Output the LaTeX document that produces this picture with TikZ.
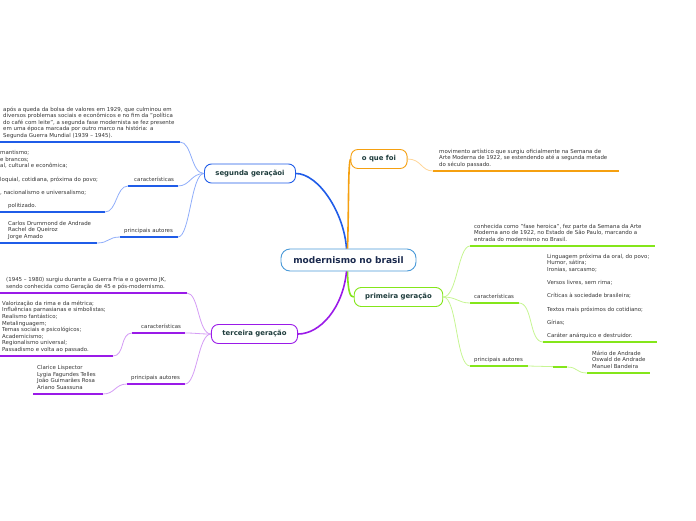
\documentclass[tikz,border=0pt]{standalone}
\usepackage{fontspec}
\setmainfont{DejaVu Sans}
\usetikzlibrary{positioning, calc}
\definecolor{rootline}{HTML}{4A9AD8}
\definecolor{roottext}{HTML}{1B2A4E}
\definecolor{labeltext}{HTML}{1E3C3C}
\definecolor{bodytext}{HTML}{333333}
\definecolor{segblue}{HTML}{1F5CE8}
\definecolor{segbluelt}{HTML}{8FADFA}
\definecolor{foiorange}{HTML}{F5A010}
\definecolor{foiorangelt}{HTML}{FFD597}
\definecolor{primgreen}{HTML}{84E61A}
\definecolor{primgreenlt}{HTML}{C6F592}
\definecolor{tercpurple}{HTML}{9A1AE8}
\definecolor{tercpurplelt}{HTML}{D49CF5}

\begin{document}
\begin{tikzpicture}[x=1pt, y=-1pt,
    topic/.style={draw=#1, fill=white, rounded corners=7pt, line width=0.9pt,
                  minimum height=19pt, inner xsep=11pt, text=labeltext,
                  font=\fontsize{6.9}{8}\selectfont\bfseries},
    note/.style={anchor=south west, inner xsep=0pt, inner ysep=3pt, text depth=1.3pt,
                 align=left, text=bodytext, font=\fontsize{5.45}{6.6}\selectfont},
    trunk/.style={line width=1.6pt, draw=#1},
    twig/.style={line width=0.8pt, draw=#1},
    rule/.style={line width=1.6pt, draw=#1}]
  \useasboundingbox (0,0) rectangle (696,520);

  % central topic
  \node[draw=rootline, fill=white, rounded corners=9pt, line width=0.9pt,
        minimum width=135pt, minimum height=22pt, text=roottext,
        font=\fontsize{9}{10}\selectfont\bfseries] (root) at (348.5,260) {modernismo no brasil};
  \coordinate (hubtop) at ([xshift=-2pt]root.north);
  \coordinate (hubbot) at ([xshift=-2pt]root.south);

  % main topics
  \node[topic=foiorange]  (oqf)  at (379,159)   {o que foi};
  \node[topic=primgreen]  (prim) at (398.5,297) {primeira geração};
  \node[topic=segblue]    (seg)  at (250,173.5) {segunda geraçãoi};
  \node[topic=tercpurple] (terc) at (254.5,334) {terceira geração};

  \draw[trunk=segblue] (hubtop) .. controls (344,212) and (318,173.5) .. (seg.east);
  \draw[trunk=foiorange] ([xshift=1pt]hubtop) .. controls (349,200) and (348,166) .. (oqf.west);
  \draw[trunk=primgreen] ([xshift=1pt]hubbot) .. controls (348,292) and (350,297) .. (prim.west);
  \draw[trunk=tercpurple] (hubbot) .. controls (343,308) and (320,334) .. (terc.east);

  % o que foi
  \coordinate (oqfL) at (433,171);
  \coordinate (oqfR) at (619,171);
  \node[note] (oqfTxt) at (439,171) {movimento artístico que surgiu oficialmente na Semana de\\
    Arte Moderna de 1922, se estendendo até a segunda metade\\
    do século passado.};
  \draw[rule=foiorange] (oqfL) -- (oqfR);
  \draw[twig=foiorangelt] (oqf.east) .. controls +(14,0) and +(-12,0) .. (oqfL);

  % primeira geracao
  \coordinate (primTopL) at (470,246);
  \coordinate (primTopR) at (655,246);
  \node[note] (primTop) at (474,246) {conhecida como "fase heroica", fez parte da Semana da Arte\\
    Moderna ano de 1922, no Estado de São Paulo, marcando a\\
    entrada do modernismo no Brasil.};
  \draw[rule=primgreen] (primTopL) -- (primTopR);
  \draw[twig=primgreenlt] (prim.east) .. controls +(14,0) and +(-12,0) .. (primTopL);

  \coordinate (primCarL) at (470,303);
  \coordinate (primCarR) at (519,303);
  \node[note] (primCar) at (474,303) {características};
  \draw[rule=primgreen] (primCarL) -- (primCarR);
  \draw[twig=primgreenlt] (prim.east) .. controls +(14,0) and +(-12,0) .. (primCarL);

  \coordinate (primCarListL) at (543,342);
  \coordinate (primCarListR) at (657,342);
  \node[note] (primCarList) at (547,342) {Linguagem próxima da oral, do povo;\\
    Humor, sátira;\\
    Ironias, sarcasmo;\\[6.6pt]
    Versos livres, sem rima;\\[6.6pt]
    Críticas à sociedade brasileira;\\[6.6pt]
    Textos mais próximos do cotidiano;\\[6.6pt]
    Gírias;\\[6.6pt]
    Caráter anárquico e destruidor.};
  \draw[rule=primgreen] (primCarListL) -- (primCarListR);
  \draw[twig=primgreenlt] (primCarR) .. controls +(14,0) and +(-14,0) .. (primCarListL);

  \coordinate (primAutL) at (470,366);
  \coordinate (primAutR) at (528,366);
  \node[note] (primAut) at (474,366) {principais autores};
  \draw[rule=primgreen] (primAutL) -- (primAutR);
  \draw[twig=primgreenlt] (prim.east) .. controls +(14,0) and +(-14,0) .. (primAutL);

  \coordinate (primAutListL) at (587,373);
  \coordinate (primAutListR) at (650,373);
  \node[note] (primAutList) at (592,373) {Mário de Andrade\\
    Oswald de Andrade\\
    Manuel Bandeira};
  \draw[rule=primgreen] (primAutListL) -- (primAutListR);
  \draw[twig=primgreenlt] (primAutR) -- (567,367) .. controls (578,367) and (576,373) .. (primAutListL);
  \draw[rule=primgreen] (553,367) -- (567,367);

  % segunda geracao
  \coordinate (segTopL) at (0,142);
  \coordinate (segTopR) at (180,142);
  \node[note] (segTop) at (3,142) {após a queda da bolsa de valores em 1929, que culminou em\\
    diversos problemas sociais e econômicos e no fim da "política\\
    do café com leite", a segunda fase modernista se fez presente\\
    em uma época marcada por outro marco na história: a\\
    Segunda Guerra Mundial (1939 – 1945).};
  \draw[rule=segblue] (segTopL) -- (segTopR);
  \draw[twig=segbluelt] (seg.west) .. controls +(-13,0) and +(12,0) .. (segTopR);

  \coordinate (segCarL) at (128,186);
  \coordinate (segCarR) at (178,186);
  \node[note] (segCar) at (134,186) {características};
  \draw[rule=segblue] (segCarL) -- (segCarR);
  \draw[twig=segbluelt] (seg.west) .. controls +(-13,0) and +(12,0) .. (segCarR);

  \coordinate (segCarListL) at (0,212);
  \coordinate (segCarListR) at (105,212);
  \node[note] (segCarList) at (0,212) {mantismo;\\
    e brancos;\\
    al, cultural e econômica;\\[6.6pt]
    loquial, cotidiana, próxima do povo;\\[6.6pt]
    , nacionalismo e universalismo;\\[6.6pt]
    \hspace*{8pt}politizado.};
  \draw[rule=segblue] (segCarListL) -- (segCarListR);
  \draw[twig=segbluelt] (segCarL) .. controls +(-12,0) and +(12,0) .. (segCarListR);

  \coordinate (segAutL) at (120,237);
  \coordinate (segAutR) at (178,237);
  \node[note] (segAut) at (124,237) {principais autores};
  \draw[rule=segblue] (segAutL) -- (segAutR);
  \draw[twig=segbluelt] (seg.west) .. controls +(-13,0) and +(12,0) .. (segAutR);

  \coordinate (segAutListL) at (0,243);
  \coordinate (segAutListR) at (97,243);
  \node[note] (segAutList) at (8,243) {Carlos Drummond de Andrade\\
    Rachel de Queiroz\\
    Jorge Amado};
  \draw[rule=segblue] (segAutListL) -- (segAutListR);
  \draw[twig=segbluelt] (segAutL) .. controls +(-12,0) and +(12,0) .. (segAutListR);

  % terceira geracao
  \coordinate (tercTopL) at (0,293);
  \coordinate (tercTopR) at (187,293);
  \node[note] (tercTop) at (6,293) {(1945 – 1980) surgiu durante a Guerra Fria e o governo JK,\\
    sendo conhecida como Geração de 45 e pós-modernismo.};
  \draw[rule=tercpurple] (tercTopL) -- (tercTopR);
  \draw[twig=tercpurplelt] (terc.west) .. controls +(-13,0) and +(12,0) .. (tercTopR);

  \coordinate (tercCarL) at (132,333);
  \coordinate (tercCarR) at (185,333);
  \node[note] (tercCar) at (141,333) {características};
  \draw[rule=tercpurple] (tercCarL) -- (tercCarR);
  \draw[twig=tercpurplelt] (terc.west) .. controls +(-13,0) and +(12,0) .. (tercCarR);

  \coordinate (tercCarListL) at (0,356);
  \coordinate (tercCarListR) at (113,356);
  \node[note] (tercCarList) at (2,356) {Valorização da rima e da métrica;\\
    Influências parnasianas e simbolistas;\\
    Realismo fantástico;\\
    Metalinguagem;\\
    Temas sociais e psicológicos;\\
    Academicismo;\\
    Regionalismo universal;\\
    Passadismo e volta ao passado.};
  \draw[rule=tercpurple] (tercCarListL) -- (tercCarListR);
  \draw[twig=tercpurplelt] (tercCarL) .. controls +(-12,0) and +(12,0) .. (tercCarListR);

  \coordinate (tercAutL) at (127,384);
  \coordinate (tercAutR) at (185,384);
  \node[note] (tercAut) at (131,384) {principais autores};
  \draw[rule=tercpurple] (tercAutL) -- (tercAutR);
  \draw[twig=tercpurplelt] (terc.west) .. controls +(-13,0) and +(12,0) .. (tercAutR);

  \coordinate (tercAutListL) at (33,394);
  \coordinate (tercAutListR) at (103,394);
  \node[note] (tercAutList) at (37,394) {Clarice Lispector\\
    Lygia Fagundes Telles\\
    João Guimarães Rosa\\
    Ariano Suassuna};
  \draw[rule=tercpurple] (tercAutListL) -- (tercAutListR);
  \draw[twig=tercpurplelt] (tercAutL) .. controls +(-12,0) and +(12,0) .. (tercAutListR);
\end{tikzpicture}
\end{document}
